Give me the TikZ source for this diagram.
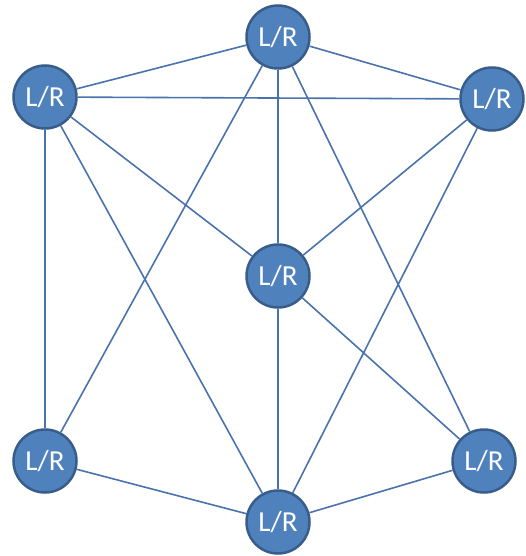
\documentclass[tikz,border=0pt]{standalone}
\usepackage{fontspec}
\setmainfont{Carlito}
\definecolor{nodefill}{HTML}{4F81BD}
\definecolor{nodeline}{HTML}{385D8A}
\definecolor{edgecol}{HTML}{4A73AD}
\begin{document}
\begin{tikzpicture}[x=1pt,y=-1pt,
  lr/.style={circle,draw=nodeline,fill=nodefill,line width=2.5pt,minimum size=63pt,inner sep=0pt,text=white,font=\fontsize{29}{30}\selectfont},
  edge/.style={draw=edgecol,line width=1.6pt}]
\useasboundingbox (0,0) rectangle (525,556);
\node[lr] (T)  at (278,37)  {L/R};
\node[lr] (TL) at (45,97)   {L/R};
\node[lr] (TR) at (492,99)  {L/R};
\node[lr] (C)  at (278,276) {L/R};
\node[lr] (BL) at (45,461)  {L/R};
\node[lr] (BR) at (484,461) {L/R};
\node[lr] (B)  at (278,522) {L/R};
\path[edge] (T) -- (TL) (T) -- (TR) (TL) -- (TR) (T) -- (C) (T) -- (BL) (T) -- (BR)
  (TL) -- (BL) (TL) -- (C) (TL) -- (B) (TR) -- (C) (TR) -- (B)
  (C) -- (B) (C) -- (BR) (BL) -- (B) (BR) -- (B);
\end{tikzpicture}
\end{document}
